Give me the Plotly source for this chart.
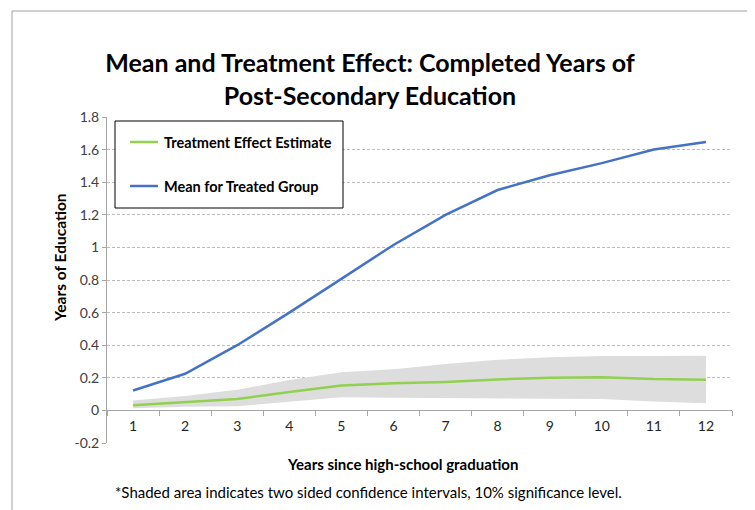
import plotly.graph_objects as go

years = ["1", "2", "3", "4", "5", "6", "7", "8", "9", "10", "11", "12"]
treated_mean = [0.122, 0.225, 0.40, 0.60, 0.807, 1.015, 1.20, 1.352, 1.443, 1.517, 1.60, 1.647]
effect = [0.032, 0.052, 0.070, 0.113, 0.152, 0.167, 0.175, 0.190, 0.200, 0.204, 0.192, 0.188]
ci_upper = [0.060, 0.089, 0.126, 0.187, 0.234, 0.252, 0.285, 0.310, 0.326, 0.334, 0.334, 0.336]
ci_lower = [0.013, 0.023, 0.025, 0.052, 0.081, 0.077, 0.075, 0.075, 0.075, 0.070, 0.054, 0.044]

y_ticks = [-0.2, 0, 0.2, 0.4, 0.6, 0.8, 1.0, 1.2, 1.4, 1.6, 1.8]
y_labels = ["-0.2", "0", "0.2", "0.4", "0.6", "0.8", "1", "1.2", "1.4", "1.6", "1.8"]

FONT = "Lato"
GREEN = "#92D050"
BLUE = "#4472C4"

# the page body has an 8px margin, so the figure is drawn 8px smaller
W, H = 747, 502
L, T, R, B = 99, 109, 23, 67
PW, PH = W - L - R, H - T - B


def px(x):
    # screen x -> paper x
    return (x - 8 - L) / PW


def py(y):
    # screen y -> paper y
    return (H - B - (y - 8)) / PH


fig = go.Figure()

# confidence band
fig.add_trace(go.Scatter(x=years, y=ci_lower, mode="lines", line=dict(width=0),
                         showlegend=False, hoverinfo="skip"))
fig.add_trace(go.Scatter(x=years, y=ci_upper, mode="lines", line=dict(width=0),
                         fill="tonexty", fillcolor="#DDDDDD",
                         showlegend=False, hoverinfo="skip"))

fig.add_trace(go.Scatter(x=years, y=effect, mode="lines", name="Treatment Effect Estimate",
                         line=dict(color=GREEN, width=2.5), showlegend=False))
fig.add_trace(go.Scatter(x=years, y=treated_mean, mode="lines", name="Mean for Treated Group",
                         line=dict(color=BLUE, width=2.5), showlegend=False))

fig.update_layout(
    width=W, height=H,
    margin=dict(l=L, r=R, t=T, b=B),
    paper_bgcolor="white", plot_bgcolor="white",
    font=dict(family=FONT, color="#404040", size=13),
    title=dict(
        text="<b>Mean and Treatment Effect: Completed Years of<br>Post-Secondary Education</b>",
        x=(370 - 8) / W, xanchor="center", y=1 - 64 / H, yanchor="middle",
        font=dict(family=FONT, size=25, color="black"),
    ),
    showlegend=False,
)

fig.update_xaxes(
    type="category", range=[-0.5, 11.5],
    anchor="free", position=0.1,
    showline=True, linecolor="#A6A6A6", linewidth=1,
    ticks="outside", tickson="boundaries", ticklen=5, tickcolor="#A6A6A6",
    ticklabelstandoff=3,
    showgrid=False, tickfont=dict(size=14, color="#262626"),
)
fig.update_yaxes(
    range=[-0.2, 1.8], tickvals=y_ticks, ticktext=y_labels,
    showline=True, linecolor="#A6A6A6", linewidth=1,
    ticks="outside", ticklen=4, tickcolor="#A6A6A6",
    showgrid=True, gridcolor="#BDBDBD", griddash="3px,2px", gridwidth=1,
    zeroline=False, tickfont=dict(size=14, color="#404040"),
)

# legend box, drawn by hand to match the boxed Excel legend
fig.add_shape(type="rect", xref="paper", yref="paper",
              x0=px(115), x1=px(343), y0=py(208), y1=py(121),
              line=dict(color="black", width=1), fillcolor="white")
for name, color, ypos in [("Treatment Effect Estimate", GREEN, 142),
                          ("Mean for Treated Group", BLUE, 186)]:
    fig.add_shape(type="line", xref="paper", yref="paper",
                  x0=px(130), x1=px(158), y0=py(ypos), y1=py(ypos),
                  line=dict(color=color, width=2.5))
    fig.add_annotation(text="<b>" + name + "</b>", xref="paper", yref="paper",
                       x=px(162), y=py(ypos), xanchor="left", yanchor="middle",
                       showarrow=False, font=dict(family=FONT, size=14.5, color="black"))

fig.add_annotation(text="<b>Years of Education</b>", xref="paper", yref="paper",
                   x=px(60), y=py(258), xanchor="center", yanchor="middle",
                   textangle=-90, showarrow=False,
                   font=dict(family=FONT, size=15.5, color="black"))
fig.add_annotation(text="<b>Years since high-school graduation</b>", xref="paper", yref="paper",
                   x=px(402), y=py(464), xanchor="center", yanchor="middle", showarrow=False,
                   font=dict(family=FONT, size=15, color="black"))
fig.add_annotation(text="*Shaded area indicates two sided confidence intervals, 10% significance level.",
                   xref="paper", yref="paper", x=px(368), y=py(492),
                   xanchor="center", yanchor="middle", showarrow=False,
                   font=dict(family=FONT, size=15, color="black"))

# chart area border
fig.add_shape(type="rect", xref="paper", yref="paper",
              x0=px(12), x1=px(749), y0=py(530), y1=py(11),
              line=dict(color="#A0A0A0", width=1), layer="below")

fig.write_html("out.html")
